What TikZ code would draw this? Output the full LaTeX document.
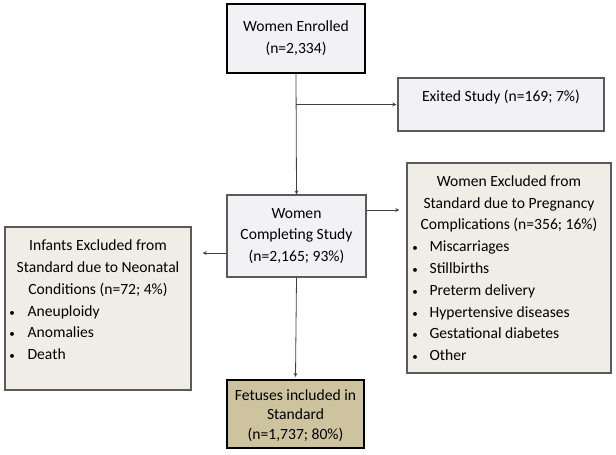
\documentclass[tikz,border=0pt]{standalone}
\usepackage{fontspec}
\setmainfont{Carlito}
\usepackage{tikz}
\usetikzlibrary{positioning}

\definecolor{boxgray}{HTML}{F2F2F4}
\definecolor{boxbeige}{HTML}{F0EDE6}
\definecolor{boxkhaki}{HTML}{CDC49F}
\definecolor{edgegray}{HTML}{5A5A5A}

\newcommand{\listdot}{\makebox[7pt]{\fontsize{11}{11}\selectfont\textbullet}}

\tikzset{
  flowbox/.style={draw=edgegray,line width=1.2pt,fill=#1,inner sep=0pt},
  keybox/.style={draw=black,line width=2.2pt,fill=#1,inner sep=0pt},
  boxtext/.style={align=center,inner sep=0pt,font=\fontsize{15.6}{21.7}\selectfont},
  link/.style={draw=black!75,line width=0.8pt,-stealth}
}

\begin{document}
\begin{tikzpicture}[x=1pt,y=-1pt]
\useasboundingbox (0,0) rectangle (616,455);
% boxes
\node[keybox=boxgray,minimum width=138,minimum height=69] (enrol) at (296,38.5) {};
\node[boxtext] (enroltext) at (enrol) {Women Enrolled\\(n=2,334)};
\node[flowbox=boxgray,minimum width=206,minimum height=53] (exit) at (501,104.5) {};
\node[boxtext,below=12pt of exit.north] (exittext) {Exited Study (n=169; 7\%)};
\node[flowbox=boxgray,minimum width=139,minimum height=82] (compl) at (296.5,236) {};
\node[boxtext] (compltext) at (compl) {Women\\Completing Study\\(n=2,165; 93\%)};
\node[flowbox=boxbeige,minimum width=204,minimum height=210] (preg) at (509,268) {};
\node[boxtext,below=13pt of preg.north] (pregtext) {Women Excluded from\\Standard due to Pregnancy\\Complications (n=356; 16\%)};
\node[boxtext,align=left,anchor=north west] (preglist) at ([yshift=-8.5pt]pregtext.south -| preg.west) {%
  \hspace{5pt}\listdot\hspace{11pt}Miscarriages\\
  \hspace{5pt}\listdot\hspace{11pt}Stillbirths\\
  \hspace{5pt}\listdot\hspace{11pt}Preterm delivery\\
  \hspace{5pt}\listdot\hspace{11pt}Hypertensive diseases\\
  \hspace{5pt}\listdot\hspace{11pt}Gestational diabetes\\
  \hspace{5pt}\listdot\hspace{11pt}Other};
\node[flowbox=boxbeige,minimum width=186,minimum height=163] (infant) at (98,308.5) {};
\node[boxtext,below=13.5pt of infant.north] (infanttext) {Infants Excluded from\\Standard due to Neonatal\\Conditions (n=72; 4\%)};
\node[boxtext,align=left,anchor=north west] (infantlist) at ([yshift=-8.5pt]infanttext.south -| infant.west) {%
  \hspace{4pt}\listdot\hspace{12pt}Aneuploidy\\
  \hspace{4pt}\listdot\hspace{12pt}Anomalies\\
  \hspace{4pt}\listdot\hspace{12pt}Death};
\node[keybox=boxkhaki,minimum width=137,minimum height=68] (fetus) at (295.5,414) {};
\node[boxtext,font=\fontsize{15.6}{19.5}\selectfont] (fetustext) at ([yshift=-1.5pt]fetus.center) {Fetuses included in\\Standard\\(n=1,737; 80\%)};
% connectors
\coordinate (split) at (enrol.south |- exit.west);
\draw[link] (enrol.south) -- (compl.north);
\draw[link] (split) -- ([xshift=-1pt]exit.west);
\draw[link] ([yshift=26pt]compl.east) -- ([yshift=26pt,xshift=-7pt]compl.east -| preg.west);
\draw[link] ([yshift=-17pt]compl.west) -- ([yshift=-17pt,xshift=11pt]compl.west -| infant.east);
\draw[link] (compl.south) -- ([yshift=2pt]fetus.north);
\end{tikzpicture}
\end{document}
